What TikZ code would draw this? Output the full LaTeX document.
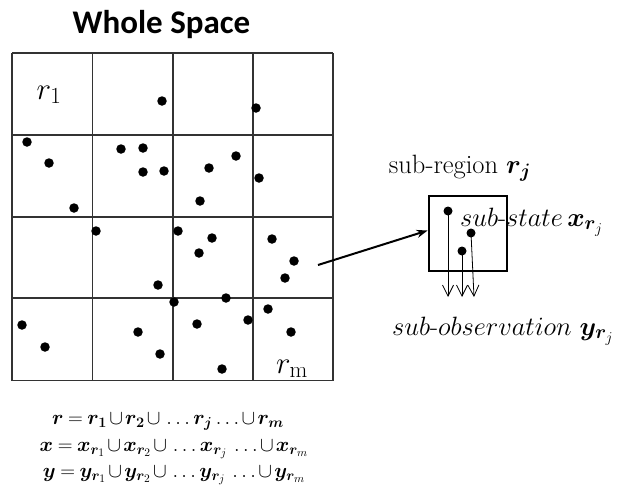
\RequirePackage{fix-cm}
\documentclass[tikz,border=0pt]{standalone}
\usepackage{amsmath}
\usepackage{bm}
\usepackage{fontspec}
\newfontfamily\titlefont{Carlito}
\DeclareMathSizes{26.5}{26.5}{19.5}{15}
\DeclareMathSizes{20.5}{20.5}{14.5}{11.5}
\DeclareMathSizes{31}{31}{23}{17}
\newcommand\eqtight{\medmuskip=2mu\relax\thickmuskip=4mu\relax}
\usetikzlibrary{arrows.meta}
\tikzset{
  gridline/.style={line width=1.4pt, draw=black!80},
  dot/.style={circle, fill=black, inner sep=0pt, minimum size=9.5pt},
  obsarrow/.style={line width=0.8pt, -{Straight Barb[length=11pt,width=11pt,line width=0.8pt]}},
  lbl/.style={inner sep=0pt},
  bigtxt/.style={font=\fontsize{26.5}{30}\selectfont},
  eqtxt/.style={font=\fontsize{20.5}{24}\selectfont},
}
\begin{document}
\begin{tikzpicture}[x=1pt,y=-1pt]
\useasboundingbox (0,0) rectangle (622,496);
% title
\node[lbl, anchor=base] (title) at (161.5,33) {\titlefont\bfseries\fontsize{33}{36}\selectfont Whole Space};
% grid
\foreach \x in {12,92.5,173,253,333}
  \draw[gridline] (\x,53) -- (\x,380.5);
\foreach \y in {53,135,217,298,380.5}
  \draw[gridline] (12,\y) -- (333,\y);
% region labels
\node[lbl, anchor=base] (r1) at (49,99) {\fontsize{31}{34}\selectfont $r_1$};
\node[lbl, anchor=base] (rm) at (292,373) {\fontsize{31}{34}\selectfont $r_{\mathrm{m}}$};
% dots
\foreach \px/\py [count=\i] in {162/101,256/108,27/142,49/163,121/149,143/148,143/172,164/171,209/168,236/156,259/178,200/201,74/208,96/231,178/231,212/238,199/253,272/239,294/261,285/278,158/285,174/302,226/298,268/309,248/320,22/325,197/324,138/332,291/332,45/347,160/354,222/369}
  \node[dot] (d\i) at (\px,\py) {};
% arrow to sub-region
\coordinate (astart) at (318,265);
\node[draw, line width=2.8pt, minimum width=78pt, minimum height=75pt, inner sep=0pt] (box) at (468,233.5) {};
\draw[line width=2pt, -{Stealth[length=11pt,width=8pt]}] (astart) -- ([yshift=3pt]box.west);
% dots in box
\node[dot, minimum size=9pt] (s1) at (448,211) {};
\node[dot, minimum size=9pt] (s2) at (471,233) {};
\node[dot, minimum size=9pt] (s3) at (462,251) {};
\coordinate (o1) at (448,297);
\coordinate (o2) at (462,297);
\coordinate (o3) at (474,297);
\draw[obsarrow] (s1.center) -- (o1);
\draw[obsarrow] (s3.center) -- (o2);
\draw[obsarrow] (s2.center) -- (o3);
% labels
\node[lbl, anchor=base, bigtxt] (subreg) at (460,173) {sub-region $\bm{r_j}$};
\node[lbl, anchor=base west, bigtxt] (substate) at (460,226) {$sub\text{-}state\,\bm{x}_{\bm{r}_j}$};
\node[lbl, anchor=base west, bigtxt] (subobs) at (392,335) {$sub\text{-}observation\ \bm{y}_{\bm{r}_j}$};
% equations
\node[lbl, anchor=base, eqtxt] (eq1) at (168,424) {$\eqtight\bm{r}=\bm{r_1}\cup\bm{r_2}\cup\,\ldots\bm{r_j}\ldots\cup\bm{r_m}$};
\node[lbl, anchor=base, eqtxt] (eq2) at (174,451) {$\eqtight\bm{x}=\bm{x}_{\bm{r}_1}\cup\bm{x}_{\bm{r}_2}\cup\,\ldots\bm{x}_{\bm{r}_j}\,\ldots\cup\bm{x}_{\bm{r}_m}$};
\node[lbl, anchor=base, eqtxt] (eq3) at (174,477) {$\eqtight\bm{y}=\bm{y}_{\bm{r}_1}\cup\bm{y}_{\bm{r}_2}\cup\,\ldots\bm{y}_{\bm{r}_j}\,\ldots\cup\bm{y}_{\bm{r}_m}$};
\end{tikzpicture}
\end{document}
